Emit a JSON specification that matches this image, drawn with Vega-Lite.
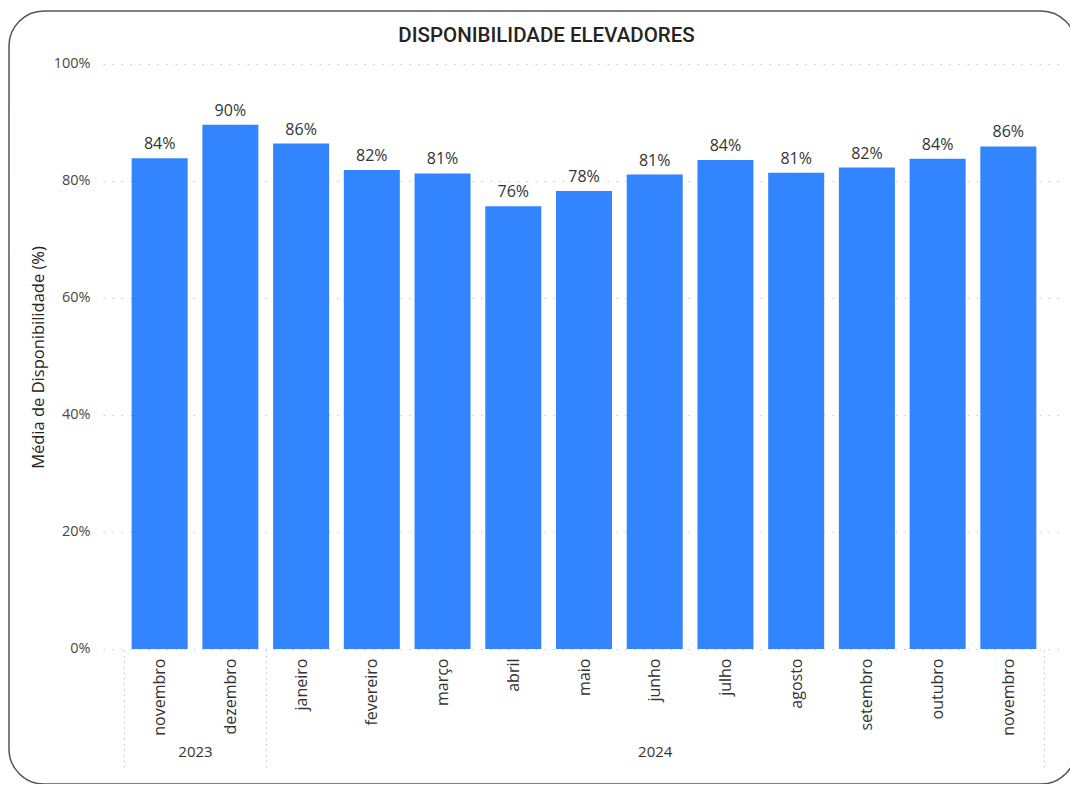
{
  "$schema": "https://vega.github.io/schema/vega-lite/v6.json",
  "width": 1067,
  "height": 773,
  "autosize": "none",
  "padding": {"left": 9, "top": 11, "right": 0, "bottom": 0},
  "background": "white",
  "config": {
    "view": {"stroke": "#555555", "strokeWidth": 1.5, "cornerRadius": 35},
    "font": "Open Sans"
  },
  "title": {
    "text": "DISPONIBILIDADE ELEVADORES",
    "font": "Roboto",
    "fontWeight": 500,
    "fontSize": 20.5,
    "color": "#252423",
    "anchor": "middle",
    "baseline": "alphabetic",
    "offset": -51,
    "dx": 4
  },
  "data": {
    "values": [
      {"periodo": "2023-11", "mes": "novembro", "ano": "2023", "valor": 0.839},
      {"periodo": "2023-12", "mes": "dezembro", "ano": "2023", "valor": 0.896},
      {"periodo": "2024-01", "mes": "janeiro", "ano": "2024", "valor": 0.864},
      {"periodo": "2024-02", "mes": "fevereiro", "ano": "2024", "valor": 0.819},
      {"periodo": "2024-03", "mes": "março", "ano": "2024", "valor": 0.813},
      {"periodo": "2024-04", "mes": "abril", "ano": "2024", "valor": 0.757},
      {"periodo": "2024-05", "mes": "maio", "ano": "2024", "valor": 0.783},
      {"periodo": "2024-06", "mes": "junho", "ano": "2024", "valor": 0.811},
      {"periodo": "2024-07", "mes": "julho", "ano": "2024", "valor": 0.836},
      {"periodo": "2024-08", "mes": "agosto", "ano": "2024", "valor": 0.814},
      {"periodo": "2024-09", "mes": "setembro", "ano": "2024", "valor": 0.823},
      {"periodo": "2024-10", "mes": "outubro", "ano": "2024", "valor": 0.838},
      {"periodo": "2024-11", "mes": "novembro", "ano": "2024", "valor": 0.859}
    ]
  },
  "layer": [
    {
      "mark": {"type": "bar", "color": "#3385FF"},
      "encoding": {
        "x": {
          "field": "periodo",
          "type": "ordinal",
          "scale": {"range": [115.3, 1034.7], "paddingInner": 0.208, "paddingOuter": 0.104, "align": 0.5},
          "axis": {
            "orient": "bottom",
            "offset": -134,
            "title": null,
            "domain": false,
            "ticks": true,
            "bandPosition": 1,
            "tickOffset": 7.36,
            "tickSize": 118,
            "tickDash": [1.5, 4],
            "tickColor": "#C8C6C4",
            "tickOpacity": {"condition": {"test": "datum.value == '2024-11'", "value": 1}, "value": 0},
            "labelOffset": -7.36,
            "labelAngle": -90,
            "labelAlign": "right",
            "labelBaseline": "middle",
            "labelPadding": -110,
            "labelFontSize": 16,
            "labelColor": "#333333",
            "labelFont": "Open Sans",
            "labelOverlap": false,
            "labelBound": false,
            "labelExpr": "['janeiro','fevereiro','março','abril','maio','junho','julho','agosto','setembro','outubro','novembro','dezembro'][toNumber(slice(datum.value,5,7))-1]"
          }
        },
        "y": {
          "field": "valor",
          "type": "quantitative",
          "scale": {"domain": [-0.2308, 1.0906], "nice": false, "zero": false},
          "axis": {
            "offset": -94,
            "values": [0, 0.2, 0.4, 0.6, 0.8, 1],
            "format": ".0%",
            "grid": false,
            "domain": false,
            "ticks": true,
            "tickSize": -959,
            "tickDash": [1.5, 7.5],
            "tickColor": "#C8C6C4",
            "tickWidth": 1,
            "labelPadding": 972,
            "labelFontSize": 14.5,
            "labelColor": "#4A4846",
            "labelFont": "Open Sans",
            "title": "Média de Disponibilidade (%)",
            "titleFont": "Open Sans",
            "titleFontSize": 16.5,
            "titleFontWeight": "normal",
            "titleColor": "#252423",
            "titleX": -65,
            "titleY": 346,
            "titleAngle": 270,
            "titleAlign": "center",
            "titleBaseline": "middle"
          }
        },
        "y2": {"datum": 0}
      }
    },
    {
      "mark": {"type": "text", "baseline": "alphabetic", "dy": -9, "fontSize": 16, "color": "#333333", "font": "Open Sans"},
      "encoding": {
        "x": {
          "field": "periodo",
          "type": "ordinal",
          "axis": {
            "orient": "bottom",
            "offset": -134,
            "title": null,
            "domain": false,
            "ticks": true,
            "bandPosition": 0,
            "tickOffset": -7.36,
            "tickSize": 118,
            "tickDash": [1.5, 4],
            "tickColor": "#C8C6C4",
            "tickOpacity": {"condition": {"test": "datum.value == '2023-11' || datum.value == '2024-01'", "value": 1}, "value": 0},
            "labelAngle": 0,
            "labelAlign": "center",
            "labelBaseline": "top",
            "labelPadding": -24,
            "labelFontSize": 15,
            "labelColor": "#333333",
            "labelFont": "Open Sans",
            "labelOverlap": false,
            "labelBound": false,
            "labelFlush": false,
            "labelOffset": {"expr": "datum.value == '2023-11' ? 42.72 : 7.36"},
            "labelExpr": "datum.value == '2023-11' ? '2023' : datum.value == '2024-06' ? '2024' : ''"
          }
        },
        "y": {"field": "valor", "type": "quantitative"},
        "text": {"field": "valor", "type": "quantitative", "format": ".0%"}
      }
    }
  ],
  "resolve": {"axis": {"x": "independent"}}
}
